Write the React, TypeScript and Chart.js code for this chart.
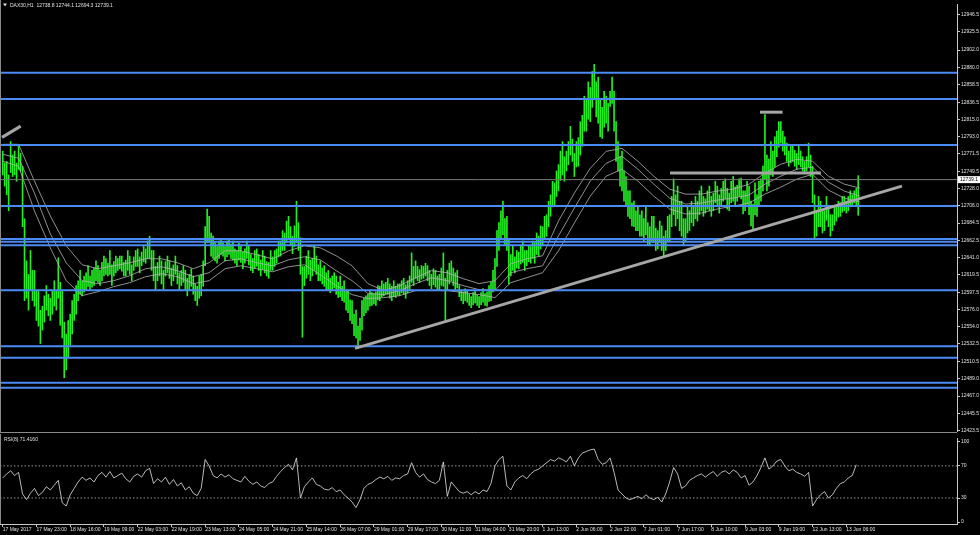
import React, { useEffect, useRef } from 'react';
import { Chart, registerables } from 'chart.js';
Chart.register(...registerables);

// ---------------- data ----------------
const symbolTitle = 'DAX30,H1  12738.8 12744.1 12694.3 12739.1';
const rsiTitle = 'RSI(8) 71.4160';
const lastPrice = 12739.1;

// hourly bars (index = hour from the first bar)
const barHighs = [
  12775, 12760, 12762, 12745, 12787, 12770, 12775, 12760, 12781, 12772,
  12756, 12690, 12637, 12620, 12650, 12625, 12625, 12600, 12600, 12575,
  12580, 12593, 12606, 12595, 12590, 12600, 12612, 12600, 12641, 12610,
  12600, 12560, 12545, 12562, 12570, 12587, 12595, 12606, 12612, 12625,
  12612, 12618, 12622, 12631, 12618, 12625, 12628, 12637, 12631, 12625,
  12635, 12643, 12640, 12634, 12650, 12632, 12636, 12643, 12640, 12643,
  12643, 12635, 12638, 12650, 12643, 12632, 12642, 12650, 12652, 12642,
  12648, 12656, 12652, 12662, 12668, 12650, 12650, 12630, 12635, 12643,
  12637, 12625, 12636, 12643, 12637, 12628, 12632, 12643, 12631, 12622,
  12625, 12631, 12625, 12615, 12620, 12627, 12618, 12608, 12605, 12618,
  12620, 12637, 12680, 12702, 12693, 12672, 12668, 12660, 12655, 12662,
  12665, 12660, 12655, 12662, 12665, 12658, 12662, 12652, 12650, 12659,
  12656, 12648, 12652, 12662, 12656, 12645, 12640, 12650, 12652, 12645,
  12638, 12650, 12643, 12636, 12635, 12650, 12642, 12650, 12652, 12662,
  12662, 12675, 12672, 12687, 12693, 12680, 12668, 12681, 12712, 12685,
  12666, 12630, 12630, 12643, 12650, 12638, 12640, 12656, 12643, 12632,
  12637, 12628, 12631, 12622, 12625, 12615, 12618, 12622, 12618, 12610,
  12618, 12605, 12612, 12598, 12600, 12588, 12587, 12570, 12575, 12555,
  12565, 12587, 12590, 12593, 12595, 12600, 12597, 12596, 12598, 12606,
  12605, 12612, 12608, 12610, 12615, 12608, 12605, 12612, 12605, 12608,
  12608, 12612, 12615, 12607, 12612, 12618, 12647, 12630, 12637, 12630,
  12626, 12631, 12630, 12634, 12631, 12625, 12620, 12627, 12625, 12618,
  12620, 12628, 12647, 12615, 12625, 12634, 12637, 12628, 12622, 12625,
  12606, 12600, 12598, 12602, 12600, 12595, 12592, 12597, 12600, 12594,
  12592, 12597, 12602, 12596, 12598, 12606, 12610, 12625, 12640, 12675,
  12685, 12700, 12712, 12690, 12693, 12665, 12645, 12656, 12642, 12650,
  12648, 12656, 12662, 12650, 12650, 12656, 12655, 12662, 12660, 12672,
  12668, 12681, 12680, 12693, 12695, 12712, 12720, 12737, 12735, 12750,
  12758, 12775, 12787, 12768, 12775, 12787, 12806, 12790, 12772, 12787,
  12792, 12812, 12820, 12844, 12840, 12862, 12855, 12875, 12884, 12862,
  12868, 12840, 12830, 12850, 12844, 12835, 12850, 12868, 12850, 12812,
  12787, 12768, 12775, 12750, 12743, 12725, 12725, 12710, 12712, 12700,
  12706, 12695, 12700, 12690, 12706, 12685, 12680, 12693, 12693, 12678,
  12675, 12687, 12681, 12668, 12675, 12693, 12695, 12718, 12740, 12720,
  12731, 12712, 12712, 12690, 12690, 12706, 12700, 12712, 12705, 12718,
  12712, 12725, 12731, 12718, 12715, 12725, 12731, 12718, 12722, 12737,
  12731, 12720, 12728, 12737, 12740, 12728, 12722, 12737, 12743, 12730,
  12732, 12740, 12741, 12725, 12725, 12737, 12731, 12712, 12708, 12735,
  12720, 12737, 12740, 12756, 12821, 12770, 12765, 12787, 12775, 12793,
  12800, 12812, 12812, 12800, 12793, 12785, 12775, 12781, 12783, 12776,
  12772, 12781, 12775, 12768, 12762, 12768, 12785, 12770, 12756, 12720,
  12700, 12718, 12712, 12700, 12700, 12718, 12706, 12695, 12695, 12706,
  12705, 12712, 12710, 12718, 12718, 12712, 12718, 12725, 12720, 12725,
  12728, 12744.1,
];
const barLows = [
  12745, 12731, 12720, 12700, 12748, 12743, 12745, 12737, 12752, 12750,
  12680, 12587, 12590, 12575, 12600, 12587, 12580, 12562, 12555, 12533,
  12550, 12560, 12575, 12568, 12562, 12570, 12580, 12575, 12590, 12556,
  12540, 12490, 12500, 12515, 12531, 12545, 12562, 12570, 12587, 12595,
  12593, 12598, 12600, 12605, 12600, 12604, 12606, 12612, 12610, 12606,
  12612, 12618, 12620, 12618, 12620, 12606, 12618, 12622, 12625, 12627,
  12624, 12618, 12618, 12625, 12620, 12612, 12625, 12630, 12630, 12622,
  12631, 12636, 12634, 12640, 12640, 12625, 12612, 12600, 12612, 12618,
  12608, 12600, 12618, 12622, 12615, 12606, 12612, 12620, 12608, 12600,
  12606, 12610, 12600, 12593, 12600, 12605, 12595, 12587, 12581, 12590,
  12593, 12605, 12631, 12660, 12660, 12643, 12640, 12637, 12634, 12640,
  12645, 12643, 12637, 12642, 12645, 12640, 12638, 12634, 12631, 12638,
  12635, 12627, 12634, 12640, 12632, 12625, 12622, 12628, 12630, 12625,
  12618, 12626, 12622, 12618, 12615, 12625, 12625, 12630, 12634, 12642,
  12643, 12650, 12650, 12660, 12665, 12656, 12646, 12655, 12660, 12650,
  12620, 12541, 12606, 12615, 12620, 12612, 12618, 12625, 12620, 12612,
  12612, 12608, 12605, 12600, 12600, 12597, 12600, 12603, 12595, 12591,
  12592, 12587, 12585, 12575, 12572, 12562, 12558, 12543, 12540, 12527,
  12537, 12550, 12568, 12572, 12575, 12580, 12581, 12583, 12581, 12588,
  12587, 12592, 12593, 12595, 12595, 12590, 12587, 12592, 12591, 12594,
  12593, 12597, 12595, 12590, 12597, 12600, 12610, 12606, 12615, 12612,
  12610, 12614, 12615, 12618, 12612, 12606, 12602, 12607, 12604, 12600,
  12600, 12606, 12605, 12562, 12600, 12608, 12612, 12606, 12600, 12603,
  12592, 12587, 12583, 12587, 12585, 12581, 12578, 12582, 12584, 12581,
  12578, 12582, 12585, 12581, 12580, 12586, 12587, 12598, 12600, 12630,
  12650, 12665, 12670, 12656, 12650, 12608, 12618, 12625, 12622, 12628,
  12627, 12633, 12635, 12625, 12631, 12636, 12634, 12640, 12634, 12645,
  12643, 12652, 12656, 12665, 12668, 12680, 12693, 12705, 12706, 12718,
  12725, 12738, 12745, 12737, 12750, 12758, 12770, 12762, 12743, 12755,
  12756, 12770, 12781, 12800, 12800, 12815, 12812, 12830, 12840, 12818,
  12810, 12793, 12791, 12805, 12810, 12800, 12831, 12835, 12800, 12762,
  12750, 12731, 12725, 12712, 12705, 12693, 12690, 12681, 12680, 12675,
  12675, 12668, 12668, 12662, 12670, 12656, 12656, 12662, 12660, 12650,
  12652, 12660, 12650, 12643, 12650, 12662, 12662, 12680, 12695, 12681,
  12690, 12675, 12668, 12656, 12662, 12672, 12675, 12685, 12681, 12690,
  12687, 12695, 12700, 12693, 12697, 12702, 12700, 12693, 12700, 12710,
  12705, 12697, 12706, 12712, 12715, 12702, 12700, 12710, 12712, 12706,
  12712, 12718, 12715, 12696, 12700, 12708, 12695, 12681, 12677, 12695,
  12693, 12705, 12712, 12725, 12740, 12725, 12731, 12745, 12743, 12755,
  12768, 12780, 12785, 12775, 12770, 12762, 12756, 12760, 12762, 12756,
  12752, 12758, 12755, 12750, 12747, 12750, 12755, 12743, 12710, 12665,
  12668, 12680, 12680, 12672, 12675, 12688, 12680, 12668, 12675, 12682,
  12687, 12692, 12693, 12698, 12700, 12697, 12700, 12706, 12706, 12710,
  12705, 12694.3,
];

const MA_STEP = 8; // hours between moving-average points
const maUpper = [
  12783.5, 12783.5, 12737.2, 12693.4, 12655.9, 12632.1, 12627.1, 12630.8, 12634.6, 12639.6,
  12639.6, 12634.6, 12627.1, 12634.6, 12649.6, 12649.6, 12644.6, 12639.6, 12649.6, 12655.9,
  12653.4, 12643.4, 12630.8, 12608.3, 12599.6, 12605.8, 12615.8, 12624.6, 12622.1, 12614.6,
  12608.3, 12612.1, 12633.3, 12639.6, 12643.4, 12687.1, 12722.2, 12753.4, 12774.7, 12778.5,
  12762.2, 12743.4, 12727.2, 12720.9, 12720.9, 12724.7, 12727.2, 12733.4, 12747.2, 12758.5,
  12764.7, 12762.2, 12743.4, 12733.4, 12728.4,
];
const maMiddle = [
  12771.0, 12766.0, 12722.2, 12670.9, 12634.6, 12612.1, 12608.3, 12612.1, 12618.3, 12627.1,
  12629.6, 12624.6, 12617.1, 12622.1, 12637.1, 12639.6, 12634.6, 12630.8, 12638.3, 12642.1,
  12638.3, 12624.6, 12612.1, 12595.8, 12594.6, 12599.6, 12608.3, 12615.8, 12612.1, 12605.8,
  12600.8, 12599.6, 12622.1, 12627.1, 12630.8, 12668.4, 12703.4, 12737.2, 12759.7, 12768.5,
  12752.2, 12733.4, 12715.9, 12708.4, 12709.7, 12713.4, 12715.9, 12719.7, 12733.4, 12743.4,
  12752.2, 12754.7, 12735.9, 12724.7, 12718.4,
];
const maLower = [
  12762.2, 12756.0, 12699.7, 12653.4, 12612.1, 12593.3, 12598.3, 12604.6, 12609.6, 12617.1,
  12620.8, 12617.1, 12608.3, 12612.1, 12627.1, 12630.8, 12627.1, 12623.3, 12629.6, 12632.1,
  12619.6, 12605.8, 12594.6, 12589.6, 12590.8, 12593.3, 12599.6, 12599.6, 12599.6, 12597.1,
  12594.6, 12590.8, 12609.6, 12615.8, 12622.1, 12649.6, 12684.6, 12718.4, 12743.4, 12752.2,
  12737.2, 12718.4, 12702.2, 12695.9, 12697.2, 12702.2, 12705.9, 12709.7, 12720.9, 12729.7,
  12739.7, 12745.9, 12725.9, 12715.9, 12710.9,
];

const RSI_STEP = 2; // hours between RSI points
const rsiValues = [
  55, 60, 64, 58, 62, 35, 28, 36, 42, 33, 37, 44, 40, 46, 52, 24, 20, 34, 42, 50,
  56, 52, 55, 50, 58, 62, 56, 63, 55, 58, 61, 54, 50, 57, 60, 56, 64, 67, 48, 54,
  50, 56, 47, 53, 45, 49, 40, 44, 36, 33, 42, 78, 70, 58, 55, 60, 56, 59, 54, 52,
  50, 57, 51, 47, 50, 45, 43, 48, 50, 57, 63, 68, 72, 65, 80, 30, 44, 50, 55, 47,
  45, 41, 40, 43, 38, 40, 34, 30, 25, 18, 28, 42, 47, 49, 53, 56, 54, 57, 52, 55,
  54, 58, 60, 74, 62, 56, 60, 53, 50, 48, 52, 75, 32, 50, 44, 38, 36, 38, 34, 38,
  35, 40, 38, 48, 70, 78, 82, 45, 40, 50, 55, 58, 54, 60, 64, 66, 70, 74, 78, 76,
  80, 78, 75, 82, 70, 80, 86, 88, 90, 91, 78, 72, 74, 80, 62, 40, 35, 30, 28, 30,
  32, 29, 34, 30, 28, 31, 25, 35, 50, 68, 60, 42, 45, 52, 55, 58, 60, 56, 60, 63,
  57, 62, 64, 60, 65, 62, 55, 58, 46, 50, 58, 68, 80, 66, 70, 76, 78, 70, 64, 66,
  62, 60, 57, 62, 20, 28, 34, 38, 30, 34, 42, 48, 50, 55, 58, 71.4,
];
const rsiLevels = [70, 30];
const rsiTicks = [100, 70, 30, 0];

// horizontal support / resistance levels (price)
const levelPrices = [
  12873.6, 12840.4, 12782.8, 12705.9, 12664.6, 12660.9, 12656.5,
  12600.2, 12529.5, 12515.1, 12483.8, 12477.5,
];
// trend lines: [startHour, startPrice, endHour, endPrice]
const trendLines = [
  [-0.35, 12792.2, 9.07, 12806.4],
  [177.5, 12527.0, 453.0, 12730.9],
  [336.2, 12747.6, 412.2, 12747.6],
  [381.5, 12823.9, 392.9, 12823.9],
];

const priceTicks = [
  12946.5, 12925.5, 12902.0, 12880.0, 12858.5, 12836.5, 12815.0, 12793.0, 12771.5,
  12749.5, 12728.0, 12706.0, 12684.5, 12662.5, 12641.0, 12619.5, 12597.5, 12576.0,
  12554.0, 12532.5, 12510.5, 12489.0, 12467.0, 12445.5, 12423.5,
];
const HOURS_PER_LABEL = 17;
const timeLabels = [
  '17 May 2017', '17 May 23:00', '18 May 16:00', '19 May 09:00', '22 May 03:00',
  '22 May 19:00', '23 May 13:00', '24 May 05:00', '24 May 21:00', '25 May 14:00',
  '26 May 07:00', '29 May 01:00', '29 May 17:00', '30 May 11:00', '31 May 04:00',
  '31 May 20:00', '1 Jun 13:00', '2 Jun 06:00', '2 Jun 22:00', '7 Jun 01:00',
  '7 Jun 17:00', '8 Jun 10:00', '9 Jun 03:00', '9 Jun 19:00', '12 Jun 13:00',
  '13 Jun 06:00',
];

const X_MIN = -1.36;
const X_MAX = 480.76;
const PRICE_MIN = 12423.1;
const PRICE_MAX = 12959.9;
const RSI_MIN = -2.4;
const RSI_MAX = 104.8;

// ---------------- style ----------------
const W = 980;
const AXIS_W = 23;
const FONT = { family: '"Liberation Sans", Arial, sans-serif', size: 5 };
const TEXT = '#e0e0e0';
const AXIS = '#c8c8c8';
const GREEN = '#22ee22';
const BLUE = '#4b8bf5';
const TREND = '#a6a6a6';
const MA_COLOR = '#b4b4b4';

const priceOverlay = {
  id: 'priceOverlay',
  afterDraw(chart: any) {
    const { ctx, chartArea } = chart;
    const y = chart.scales.y;
    ctx.save();
    ctx.strokeStyle = '#8a8a8a';
    ctx.lineWidth = 1;
    ctx.beginPath();
    ctx.moveTo(0, 432.5);
    ctx.lineTo(chartArea.right, 432.5);
    ctx.moveTo(0.5, 0);
    ctx.lineTo(0.5, 433);
    ctx.stroke();
    ctx.fillStyle = TEXT;
    ctx.beginPath();
    ctx.moveTo(3, 3.5);
    ctx.lineTo(7, 3.5);
    ctx.lineTo(5, 6.5);
    ctx.closePath();
    ctx.fill();
    ctx.font = `${FONT.size}px ${FONT.family}`;
    ctx.textBaseline = 'middle';
    ctx.textAlign = 'left';
    ctx.fillText(symbolTitle, 10, 5.3);
    const py = y.getPixelForValue(lastPrice);
    ctx.fillStyle = '#ffffff';
    ctx.fillRect(chartArea.right + 1, py - 3.5, AXIS_W - 1, 7);
    ctx.fillStyle = '#000000';
    ctx.fillText(lastPrice.toFixed(1), chartArea.right + 3, py);
    ctx.restore();
  },
};

const rsiOverlay = {
  id: 'rsiOverlay',
  afterDraw(chart: any) {
    const { ctx } = chart;
    ctx.save();
    ctx.strokeStyle = '#8a8a8a';
    ctx.lineWidth = 1;
    ctx.beginPath();
    ctx.moveTo(0.5, 0);
    ctx.lineTo(0.5, chart.chartArea.bottom);
    ctx.stroke();
    ctx.fillStyle = TEXT;
    ctx.font = `${FONT.size}px ${FONT.family}`;
    ctx.textBaseline = 'middle';
    ctx.textAlign = 'left';
    ctx.fillText(rsiTitle, 4, 5.5);
    ctx.restore();
  },
};

function hLine(value: number) {
  return [
    { x: X_MIN, y: value },
    { x: X_MAX, y: value },
  ];
}

export default function App() {
  const priceRef = useRef<HTMLCanvasElement>(null);
  const rsiRef = useRef<HTMLCanvasElement>(null);

  useEffect(() => {
    const lineBase = {
      type: 'line' as const,
      pointRadius: 0,
      tension: 0,
      fill: false,
    };

    const datasets: any[] = [
      {
        type: 'bar',
        data: barHighs.map((h, i) => ({ x: i, y: [barLows[i], h] })),
        backgroundColor: GREEN,
        borderWidth: 0,
        barThickness: 1,
        order: 10,
      },
      ...[maUpper, maMiddle, maLower].map((arr) => ({
        ...lineBase,
        data: arr.map((v, k) => ({ x: k * MA_STEP, y: v })),
        borderColor: MA_COLOR,
        borderWidth: 0.8,
        order: 6,
      })),
      {
        ...lineBase,
        data: hLine(lastPrice),
        borderColor: '#7a7a7a',
        borderWidth: 1,
        order: 5,
      },
      ...levelPrices.map((p) => ({
        ...lineBase,
        data: hLine(p),
        borderColor: BLUE,
        borderWidth: 2,
        order: 2,
      })),
      ...trendLines.map((t) => ({
        ...lineBase,
        data: [
          { x: t[0], y: t[1] },
          { x: t[2], y: t[3] },
        ],
        borderColor: TREND,
        borderWidth: 3,
        order: 1,
      })),
    ];

    const priceChart = new Chart(priceRef.current as HTMLCanvasElement, {
      type: 'bar',
      data: { datasets },
      options: {
        animation: false,
        responsive: false,
        devicePixelRatio: 1,
        events: [],
        layout: { padding: { top: 2, bottom: 5, left: 0, right: 0 } },
        plugins: { legend: { display: false }, tooltip: { enabled: false } },
        scales: {
          x: {
            type: 'linear',
            display: false,
            min: X_MIN,
            max: X_MAX,
            offset: false,
          },
          y: {
            type: 'linear',
            position: 'right',
            min: PRICE_MIN,
            max: PRICE_MAX,
            afterFit: (s: any) => {
              s.width = AXIS_W;
            },
            afterBuildTicks: (s: any) => {
              s.ticks = priceTicks.map((v) => ({ value: v }));
            },
            ticks: {
              color: TEXT,
              font: FONT,
              padding: 1,
              autoSkip: false,
              callback: (v: any) => Number(v).toFixed(1),
            },
            grid: { drawOnChartArea: false, drawTicks: true, tickLength: 3, color: AXIS },
            border: { display: true, color: AXIS, width: 1 },
          },
        },
      } as any,
      plugins: [priceOverlay],
    });

    const rsiDatasets: any[] = [
      {
        ...lineBase,
        data: rsiValues.map((v, k) => ({ x: k * RSI_STEP, y: v })),
        borderColor: '#e6e6e6',
        borderWidth: 0.8,
      },
      ...rsiLevels.map((lv) => ({
        ...lineBase,
        data: hLine(lv),
        borderColor: '#bdbdbd',
        borderWidth: 0.8,
        borderDash: [1.5, 2],
      })),
    ];

    const rsiChart = new Chart(rsiRef.current as HTMLCanvasElement, {
      type: 'line',
      data: { datasets: rsiDatasets },
      options: {
        animation: false,
        responsive: false,
        devicePixelRatio: 1,
        events: [],
        layout: { padding: 0 },
        plugins: { legend: { display: false }, tooltip: { enabled: false } },
        scales: {
          x: {
            type: 'linear',
            min: X_MIN,
            max: X_MAX,
            offset: false,
            afterFit: (s: any) => {
              s.height = 11;
            },
            afterBuildTicks: (s: any) => {
              s.ticks = timeLabels.map((_, k) => ({ value: k * HOURS_PER_LABEL }));
            },
            ticks: {
              autoSkip: false,
              maxRotation: 0,
              minRotation: 0,
              align: 'start',
              padding: 0,
              color: TEXT,
              font: FONT,
              callback: (_v: any, i: number) => timeLabels[i],
            },
            grid: { drawOnChartArea: false, drawTicks: true, tickLength: 3, color: AXIS },
            border: { display: true, color: AXIS, width: 1 },
          },
          y: {
            type: 'linear',
            position: 'right',
            min: RSI_MIN,
            max: RSI_MAX,
            afterFit: (s: any) => {
              s.width = AXIS_W;
            },
            afterBuildTicks: (s: any) => {
              s.ticks = rsiTicks.map((v) => ({ value: v }));
            },
            ticks: {
              color: TEXT,
              font: FONT,
              padding: 1,
              autoSkip: false,
              callback: (v: any) => String(v),
            },
            grid: { drawOnChartArea: false, drawTicks: true, tickLength: 3, color: AXIS },
            border: { display: true, color: AXIS, width: 1 },
          },
        },
      } as any,
      plugins: [rsiOverlay],
    });

    return () => {
      priceChart.destroy();
      rsiChart.destroy();
    };
  }, []);

  return (
    <div
      style={{
        position: 'absolute',
        left: 0,
        top: 0,
        width: W,
        height: 535,
        background: '#000000',
        overflow: 'hidden',
      }}
    >
      <canvas
        ref={priceRef}
        width={W}
        height={436}
        style={{ position: 'absolute', left: 0, top: 0, width: W, height: 436 }}
      />
      <canvas
        ref={rsiRef}
        width={W}
        height={101}
        style={{ position: 'absolute', left: 0, top: 434, width: W, height: 101 }}
      />
    </div>
  );
}
